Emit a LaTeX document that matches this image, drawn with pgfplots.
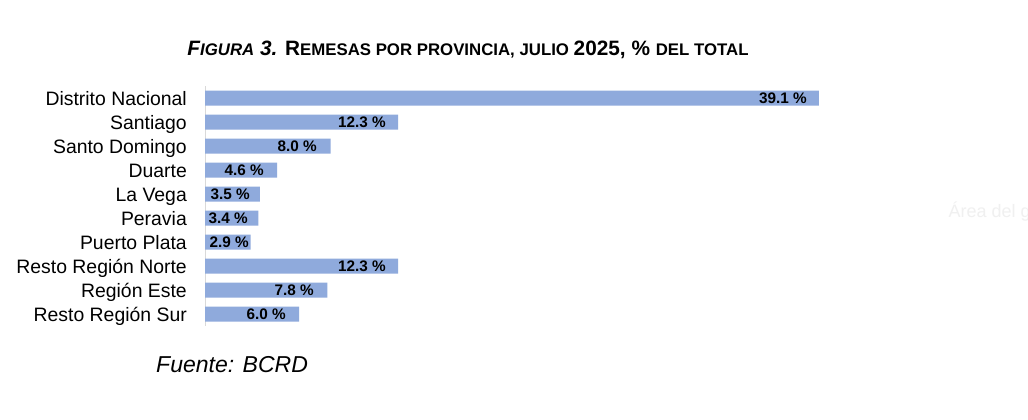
\documentclass[border=0pt]{standalone}
\usepackage{pgfplots}
\usepackage{pgfplotstable}
\pgfplotsset{compat=1.18}
\usepackage{fontspec}
\setmainfont{Liberation Sans}
\definecolor{barblue}{RGB}{143,170,220}
\definecolor{axisgray}{RGB}{217,217,217}
\newcommand{\Lg}[1]{{\fontsize{20.8}{20.8}\selectfont #1}}
\newcommand{\Sm}[1]{{\fontsize{16.8}{16.8}\selectfont #1}}

\pgfplotstableread{
y v lx
0 39.1 38.34
1 12.3 11.53
2 8.0 7.13
3 4.6 3.76
4 3.5 2.87
5 3.4 2.74
6 2.9 2.80
7 12.3 11.53
8 7.8 6.94
9 6.0 5.16
}\datatable

\begin{document}
\begin{tikzpicture}
\path[use as bounding box, fill=white] (0pt,0pt) rectangle (1028pt,-420pt);
\node[anchor=center, font=\bfseries, inner sep=0pt] at (468pt,-50pt) {\Lg{\itshape F}\Sm{\itshape IGURA}\Lg{\itshape\ 3.}\Lg{ R}\Sm{EMESAS POR PROVINCIA, JULIO }\Lg{2025, \% }\Sm{DEL TOTAL}};
\begin{axis}[
  at={(205pt,-86pt)}, anchor=north west,
  scale only axis, width=628pt, height=240pt,
  xmin=0, xmax=40, ymin=-0.5, ymax=9.5,
  y dir=reverse,
  axis x line=none,
  axis y line*=left,
  y axis line style={draw=axisgray, line width=1pt},
  ytick={0,...,9},
  yticklabels={Distrito Nacional,Santiago,Santo Domingo,Duarte,La Vega,Peravia,Puerto Plata,Resto Región Norte,Región Este,Resto Región Sur},
  major tick length=0pt,
  yticklabel style={font=\fontsize{19.4}{19.4}\selectfont, inner sep=0pt, xshift=-18pt, anchor=east, text height=13.9pt, text depth=0pt, yshift=-1pt},
  /pgf/number format/assume math mode=true,
  clip=false,
]
\addplot[xbar, bar width=15pt, fill=barblue, draw=none, bar shift=0pt] table[x=v, y=y] {\datatable};
\addplot[only marks, mark=none,
  nodes near coords={\pgfmathprintnumber[fixed, fixed zerofill, precision=1, assume math mode=true]{\pgfplotspointmeta}~\%},
  point meta=explicit,
  every node near coord/.style={anchor=east, font=\bfseries\fontsize{15.3}{15.3}\selectfont, inner sep=0pt, text=black, text height=11pt, text depth=0pt}]
  table[x=lx, y=y, meta=v] {\datatable};
\end{axis}
\node[anchor=west, font=\itshape\fontsize{23}{23}\selectfont, inner sep=0pt] at (156pt,-365pt) {Fuente: BCRD};
\begin{scope}
\clip (940pt,-195pt) rectangle (1028pt,-230pt);
\node[anchor=west, text=black!6, font=\fontsize{18}{18}\selectfont] at (945pt,-212pt) {Área del gráfico};
\end{scope}
\end{tikzpicture}
\end{document}
